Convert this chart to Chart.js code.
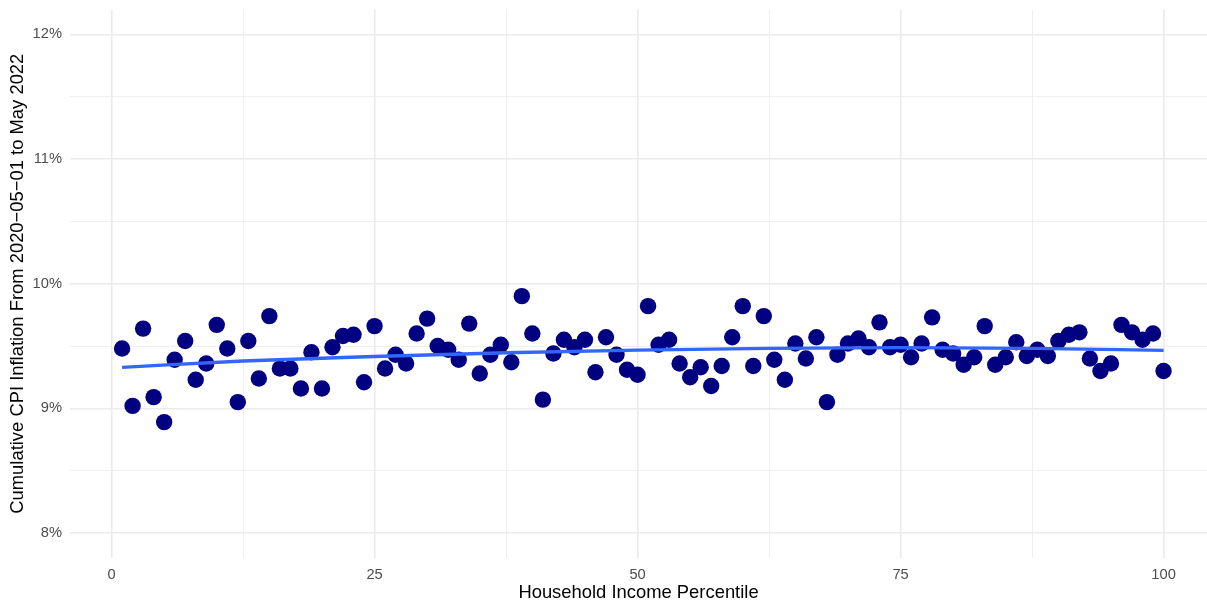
<!DOCTYPE html>
<html>
<head>
<meta charset="utf-8">
<script src="https://cdn.jsdelivr.net/npm/chart.js@4.4.1/dist/chart.umd.min.js"></script>
<style>
  html, body { margin: 0; padding: 0; background: #ffffff; overflow: hidden; }
  #wrap { width: 1207px; height: 605px; }
  canvas { display: block; }
</style>
</head>
<body>
<div id="wrap"><canvas id="c" width="1207" height="605" style="width:1207px;height:605px"></canvas></div>
<script>
// Household income percentile (x categories)
const percentiles = [1,2,3,4,5,6,7,8,9,10,11,12,13,14,15,16,17,18,19,20,
  21,22,23,24,25,26,27,28,29,30,31,32,33,34,35,36,37,38,39,40,
  41,42,43,44,45,46,47,48,49,50,51,52,53,54,55,56,57,58,59,60,
  61,62,63,64,65,66,67,68,69,70,71,72,73,74,75,76,77,78,79,80,
  81,82,83,84,85,86,87,88,89,90,91,92,93,94,95,96,97,98,99,100];

// Cumulative CPI inflation (%) per percentile
const inflation = [9.48,9.02,9.64,9.09,8.89,9.39,9.54,9.23,9.36,9.67,
  9.48,9.05,9.54,9.24,9.74,9.32,9.32,9.16,9.45,9.16,
  9.49,9.58,9.59,9.21,9.66,9.32,9.43,9.36,9.60,9.72,
  9.50,9.47,9.39,9.68,9.28,9.43,9.51,9.37,9.90,9.60,
  9.07,9.44,9.55,9.49,9.55,9.29,9.57,9.43,9.31,9.27,
  9.82,9.51,9.55,9.36,9.25,9.33,9.18,9.34,9.57,9.82,
  9.34,9.74,9.39,9.23,9.52,9.40,9.57,9.05,9.43,9.52,
  9.56,9.49,9.69,9.49,9.51,9.41,9.52,9.73,9.47,9.44,
  9.35,9.41,9.66,9.35,9.41,9.53,9.42,9.47,9.42,9.54,
  9.59,9.61,9.40,9.30,9.36,9.67,9.61,9.55,9.60,9.30];

// Smoothed trend line, read at several positions
const smoothX = [1, 12.5, 25, 37.5, 50, 62.5, 75, 87.5, 100];
const smoothY = [9.329, 9.380, 9.416, 9.446, 9.467, 9.482, 9.488, 9.481, 9.466];

// Axis ticks
const xMajorTicks = [0, 25, 50, 75, 100];
const xMinorTicks = [12.5, 37.5, 62.5, 87.5];
const yMajorTicks = [8, 9, 10, 11, 12];
const yMinorTicks = [8.5, 9.5, 10.5, 11.5];

const FONT = "'Liberation Sans', Arial, Helvetica, sans-serif";
const GRID = '#EBEBEB';

const pointData = percentiles.map((p, i) => ({ x: p, y: inflation[i] }));
const lineData = smoothX.map((p, i) => ({ x: p, y: smoothY[i] }));

function setTicks(majors, minors) {
  return function (scale) {
    const all = majors.concat(minors).sort((a, b) => a - b);
    scale.ticks = all.map(v => ({ value: v }));
  };
}
const isMajor = (arr, v) => arr.some(m => Math.abs(m - v) < 1e-9);

new Chart(document.getElementById('c'), {
  type: 'scatter',
  data: {
    datasets: [
      {
        type: 'line',
        data: lineData,
        borderColor: '#3366FF',
        borderWidth: 3.3,
        pointRadius: 0,
        fill: false,
        cubicInterpolationMode: 'monotone',
        order: 0
      },
      {
        type: 'scatter',
        data: pointData,
        backgroundColor: '#000080',
        borderColor: '#000080',
        borderWidth: 0,
        pointRadius: 8.2,
        order: 1
      }
    ]
  },
  options: {
    responsive: false,
    animation: false,
    events: [],
    layout: { autoPadding: false, padding: { top: 9.4, right: 0, left: 0, bottom: 0 } },
    plugins: { legend: { display: false }, tooltip: { enabled: false } },
    scales: {
      x: {
        type: 'linear',
        min: -3.95,
        max: 104.13,
        afterBuildTicks: setTicks(xMajorTicks, xMinorTicks),
        afterFit: s => { s.height = 47; s.paddingLeft = 0; s.paddingRight = 0; },
        border: { display: false },
        grid: {
          drawTicks: false,
          color: GRID,
          lineWidth: ctx => isMajor(xMajorTicks, ctx.tick.value) ? 1.6 : 0.8
        },
        ticks: {
          autoSkip: false,
          maxRotation: 0,
          padding: 8,
          color: '#4D4D4D',
          font: { family: FONT, size: 14.7 },
          callback: v => isMajor(xMajorTicks, v) ? String(v) : ''
        },
        title: {
          display: true,
          text: 'Household Income Percentile',
          color: '#000000',
          font: { family: FONT, size: 18.4, lineHeight: 1 },
          padding: { top: 0, bottom: 2.5 }
        }
      },
      y: {
        type: 'linear',
        min: 7.8,
        max: 12.2,
        afterBuildTicks: setTicks(yMajorTicks, yMinorTicks),
        afterFit: s => { s.width = 70; s.paddingTop = 0; s.paddingBottom = 0; },
        border: { display: false },
        grid: {
          drawTicks: false,
          color: GRID,
          lineWidth: ctx => isMajor(yMajorTicks, ctx.tick.value) ? 1.6 : 0.8
        },
        ticks: {
          autoSkip: false,
          padding: 8,
          color: '#4D4D4D',
          font: { family: FONT, size: 14.7 },
          callback: v => isMajor(yMajorTicks, v) ? v + '%' : ''
        },
        title: {
          display: true,
          text: 'Cumulative CPI Inflation From 2020\u221205\u221201 to May 2022',
          color: '#000000',
          font: { family: FONT, size: 18.4, lineHeight: 1 },
          padding: { top: 9, bottom: 0 }
        }
      }
    }
  }
});
</script>
</body>
</html>
